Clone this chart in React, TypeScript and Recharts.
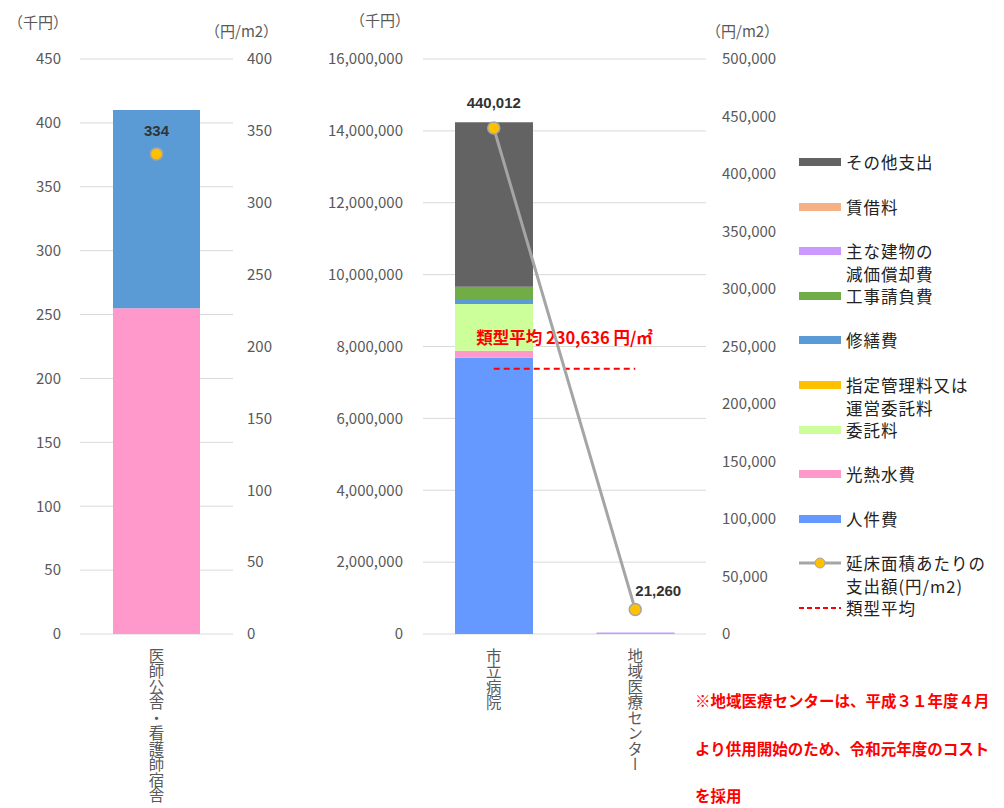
import {
  ComposedChart,
  Bar,
  Line,
  XAxis,
  YAxis,
  CartesianGrid,
  LabelList,
  ReferenceLine,
} from "recharts";

// 費目（積み上げの下から順）
const costItems = [
  "人件費",
  "光熱水費",
  "委託料",
  "指定管理料又は運営委託料",
  "修繕費",
  "工事請負費",
  "主な建物の減価償却費",
  "賃借料",
  "その他支出",
];
const costColors = [
  "#6699FF",
  "#FF99CC",
  "#CCFF99",
  "#FFC000",
  "#5B9BD5",
  "#70AD47",
  "#CC99FF",
  "#F4B183",
  "#636363",
];

// 左：医師公舎・看護師宿舎（千円）
const dormNames = ["医師公舎・看護師宿舎"];
const dormCosts = [[0, 255, 0, 0, 155, 0, 0, 0, 0]];
const dormPerM2 = [334];
const dormLeftTicks = [0, 50, 100, 150, 200, 250, 300, 350, 400, 450];
const dormRightTicks = [0, 50, 100, 150, 200, 250, 300, 350, 400];

// 右：市立病院・地域医療センター（千円）
const hospNames = ["市立病院", "地域医療センター"];
const hospCosts = [
  [7690000, 195000, 1300000, 0, 140000, 340000, 0, 0, 4575000],
  [0, 0, 0, 0, 0, 0, 45000, 0, 0],
];
const hospPerM2 = [440012, 21260];
const typeAverage = 230636;
const hospLeftTicks = [
  0, 2000000, 4000000, 6000000, 8000000, 10000000, 12000000, 14000000, 16000000,
];
const hospRightTicks = [
  0, 50000, 100000, 150000, 200000, 250000, 300000, 350000, 400000, 450000, 500000,
];

const legendNames = [
  "その他支出",
  "賃借料",
  "主な建物の\n減価償却費",
  "工事請負費",
  "修繕費",
  "指定管理料又は\n運営委託料",
  "委託料",
  "光熱水費",
  "人件費",
];
const legendLineName = "延床面積あたりの\n支出額(円/m2)";
const legendAvgName = "類型平均";

const noteLines = [
  "※地域医療センターは、平成３１年度４月",
  "より供用開始のため、令和元年度のコスト",
  "を採用",
];

const FONT = "'Noto Sans CJK JP', 'Noto Sans', sans-serif";
const TICK = "#595959";

function buildRows(names: string[], costs: number[][], perM2: number[]) {
  return names.map((name, i) => {
    const row: Record<string, number | string> = { name, perM2: perM2[i] };
    costItems.forEach((k, j) => (row[k] = costs[i][j]));
    return row;
  });
}

const dormData = buildRows(dormNames, dormCosts, dormPerM2);
const hospData = buildRows(hospNames, hospCosts, hospPerM2);

const fmt = (v: number) => v.toLocaleString("en-US");

const VTick = (props: any) => {
  const { x, y, payload } = props;
  return (
    <text
      x={x}
      y={y + 14}
      fill={TICK}
      fontSize={15.5}
      fontFamily={FONT}
      style={{ writingMode: "vertical-rl" }}
    >
      {payload.value}
    </text>
  );
};

const tickStyle = { fill: TICK, fontSize: 15, fontFamily: FONT };

const pointLabel = (offsets: [number, number][]) => (p: any) => {
  const [dx, dy] = offsets[p.index] || [0, -24];
  return (
    <text
      x={p.x + dx}
      y={p.y + dy}
      textAnchor="middle"
      dominantBaseline="central"
      fill="#333333"
      fontSize={15}
      fontWeight="bold"
      fontFamily="'Liberation Sans', Arial, sans-serif"
    >
      {fmt(Number(p.value))}
    </text>
  );
};

function Bars(size: number) {
  return costItems.map((k, j) => (
    <Bar
      key={k}
      dataKey={k}
      stackId="cost"
      yAxisId="left"
      fill={costColors[j]}
      barSize={size}
      isAnimationActive={false}
    />
  ));
}

const unitStyle: React.CSSProperties = {
  position: "absolute",
  fontSize: 15,
  color: TICK,
  fontFamily: FONT,
  whiteSpace: "nowrap",
  lineHeight: "16px",
};

export default function App() {
  return (
    <div
      style={{
        position: "absolute",
        left: 0,
        top: 0,
        width: 1004,
        height: 808,
        background: "#fff",
        fontFamily: FONT,
        overflow: "hidden",
      }}
    >
      <div style={{ ...unitStyle, left: 8, top: 14 }}>（千円）</div>
      <div style={{ ...unitStyle, left: 205, top: 23 }}>（円/m2）</div>
      <div style={{ ...unitStyle, left: 350, top: 12 }}>（千円）</div>
      <div style={{ ...unitStyle, left: 706, top: 23 }}>（円/m2）</div>

      <div style={{ position: "absolute", left: 0, top: 0 }}>
        <ComposedChart
          width={300}
          height={808}
          data={dormData}
          margin={{ top: 59, right: 7, bottom: 4, left: 20 }}
        >
          <CartesianGrid vertical={false} stroke="#D9D9D9" yAxisId="left" />
          <XAxis
            dataKey="name"
            axisLine={false}
            tickLine={false}
            tickSize={0}
            tickMargin={0}
            height={170}
            interval={0}
            tick={<VTick />}
          />
          <YAxis
            yAxisId="left"
            domain={[0, 450]}
            ticks={dormLeftTicks}
            width={60}
            axisLine={false}
            tickLine={false}
            tickSize={0}
            tickMargin={19}
            tick={tickStyle}
          />
          <YAxis
            yAxisId="right"
            orientation="right"
            domain={[0, 400]}
            ticks={dormRightTicks}
            width={60}
            axisLine={false}
            tickLine={false}
            tickSize={0}
            tickMargin={14}
            tick={tickStyle}
          />
          {Bars(87)}
          <Line
            yAxisId="right"
            dataKey="perM2"
            stroke="#A5A5A5"
            strokeWidth={3}
            dot={{ r: 6, fill: "#FFC000", stroke: "#A5A5A5", strokeWidth: 1.5 }}
            activeDot={false}
            isAnimationActive={false}
          >
            <LabelList dataKey="perM2" content={pointLabel([[0, -23]])} />
          </Line>
        </ComposedChart>
      </div>

      <div style={{ position: "absolute", left: 300, top: 0 }}>
        <ComposedChart
          width={480}
          height={808}
          data={hospData}
          margin={{ top: 59, right: 14, bottom: 4, left: 23 }}
        >
          <CartesianGrid vertical={false} stroke="#D9D9D9" yAxisId="left" />
          <XAxis
            dataKey="name"
            axisLine={false}
            tickLine={false}
            tickSize={0}
            tickMargin={0}
            height={170}
            interval={0}
            tick={<VTick />}
          />
          <YAxis
            yAxisId="left"
            domain={[0, 16000000]}
            ticks={hospLeftTicks}
            tickFormatter={fmt}
            width={100}
            axisLine={false}
            tickLine={false}
            tickSize={0}
            tickMargin={20}
            tick={tickStyle}
          />
          <YAxis
            yAxisId="right"
            orientation="right"
            domain={[0, 500000]}
            ticks={hospRightTicks}
            tickFormatter={fmt}
            width={60}
            axisLine={false}
            tickLine={false}
            tickSize={0}
            tickMargin={16}
            tick={tickStyle}
          />
          {Bars(78)}
          <ReferenceLine
            yAxisId="right"
            segment={[
              { x: hospNames[0], y: typeAverage },
              { x: hospNames[1], y: typeAverage },
            ]}
            stroke="#FF0000"
            strokeWidth={2}
            strokeDasharray="6 4"
            label={(p: any) => {
              const vb = p.viewBox || {};
              const cx = (vb.x ?? 492) + (vb.width ?? 141) / 2;
              const cy = vb.y ?? 369;
              return (
                <text
                  x={cx}
                  y={cy - 32}
                  textAnchor="middle"
                  dominantBaseline="central"
                  fill="#FF0000"
                  fontSize={16.5}
                  fontWeight="bold"
                  fontFamily={FONT}
                >
                  {`${legendAvgName} ${fmt(typeAverage)} 円/㎡`}
                </text>
              );
            }}
          />
          <Line
            yAxisId="right"
            dataKey="perM2"
            stroke="#A5A5A5"
            strokeWidth={3}
            dot={{ r: 6, fill: "#FFC000", stroke: "#A5A5A5", strokeWidth: 1.5 }}
            activeDot={false}
            isAnimationActive={false}
          >
            <LabelList
              dataKey="perM2"
              content={pointLabel([
                [0, -25],
                [23, -19],
              ])}
            />
          </Line>
        </ComposedChart>
      </div>

      {/* 凡例 */}
      <div style={{ position: "absolute", left: 0, top: 0 }}>
        {legendNames.map((name, i) => {
          const color = costColors[costItems.length - 1 - i];
          return (
            <LegendRow key={name} top={162 + 44.6 * i} label={name}>
              <div style={{ width: 42, height: 8, background: color }} />
            </LegendRow>
          );
        })}
        <LegendRow top={162 + 44.6 * 9} label={legendLineName}>
          <svg width={42} height={14}>
            <line x1={0} y1={7} x2={42} y2={7} stroke="#A5A5A5" strokeWidth={3} />
            <circle cx={21} cy={7} r={5} fill="#FFC000" stroke="#A5A5A5" strokeWidth={1} />
          </svg>
        </LegendRow>
        <LegendRow top={162 + 44.6 * 10} label={legendAvgName}>
          <svg width={42} height={14}>
            <line
              x1={0}
              y1={7}
              x2={42}
              y2={7}
              stroke="#FF0000"
              strokeWidth={2}
              strokeDasharray="5 3"
            />
          </svg>
        </LegendRow>
      </div>

      {/* 注記 */}
      {noteLines.map((t, i) => (
        <div
          key={t}
          style={{
            position: "absolute",
            left: 695,
            top: 700 + 47.5 * i - 10,
            height: 20,
            lineHeight: "20px",
            fontSize: 15.5,
            fontWeight: "bold",
            color: "#FF0000",
            whiteSpace: "nowrap",
            fontFamily: FONT,
          }}
        >
          {t}
        </div>
      ))}
    </div>
  );
}

function LegendRow({
  top,
  label,
  children,
}: {
  top: number;
  label: string;
  children: React.ReactNode;
}) {
  const lines = label.split("\n");
  return (
    <div style={{ position: "absolute", left: 799, top: top - 9, width: 205 }}>
      <div
        style={{
          position: "absolute",
          left: 0,
          top: 0,
          height: 18,
          width: 42,
          display: "flex",
          alignItems: "center",
        }}
      >
        {children}
      </div>
      {lines.map((l, k) => (
        <div
          key={k}
          style={{
            position: "absolute",
            left: 47,
            top: 23 * k,
            height: 18,
            lineHeight: "18px",
            fontSize: 16.5,
            letterSpacing: 1,
            color: "#222",
            whiteSpace: "nowrap",
            fontFamily: FONT,
          }}
        >
          {l}
        </div>
      ))}
    </div>
  );
}
